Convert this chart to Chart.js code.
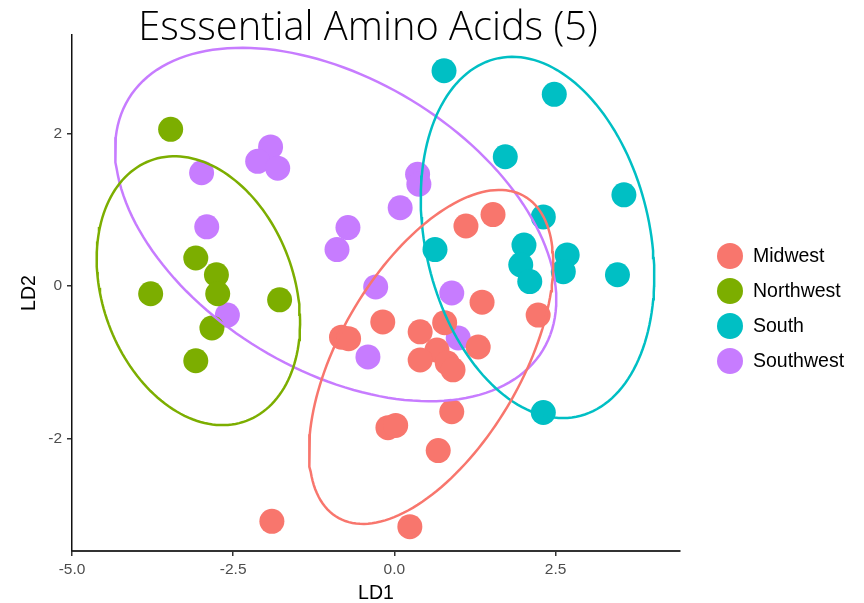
<!DOCTYPE html>
<html><head><meta charset="utf-8">
<script src="https://cdn.jsdelivr.net/npm/chart.js@4/dist/chart.umd.min.js"></script>
<style>html,body{margin:0;padding:0;background:#fff}canvas{display:block}</style>
</head><body>
<canvas id="c" width="864" height="603"></canvas>
<script>
// ---- data ----
const groupNames = ['Midwest', 'Northwest', 'South', 'Southwest'];
const groupColors = ['#F8766D', '#7CAE00', '#00BFC4', '#C77CFF'];

const midwestLD1 = [1.53, 1.11, 1.36, 2.23, -0.18, -0.82, -0.71, 0.40, 0.78, 0.66, 0.40, 0.82, 0.91, 1.30, 0.89, -0.10, 0.02, 0.68, -1.90, 0.24];
const midwestLD2 = [0.94, 0.79, -0.21, -0.38, -0.47, -0.67, -0.69, -0.60, -0.48, -0.84, -0.97, -1.01, -1.10, -0.80, -1.65, -1.86, -1.83, -2.16, -3.09, -3.16];

const northwestLD1 = [-3.47, -3.08, -2.76, -2.74, -3.78, -1.78, -2.83, -3.08];
const northwestLD2 = [2.06, 0.37, 0.15, -0.10, -0.10, -0.18, -0.55, -0.98];

const southLD1 = [0.77, 2.48, 1.72, 3.56, 2.31, 0.63, 2.01, 1.96, 2.10, 2.68, 2.62, 3.46, 2.31];
const southLD2 = [2.83, 2.52, 1.70, 1.20, 0.91, 0.48, 0.54, 0.28, 0.06, 0.41, 0.19, 0.15, -1.66];

const southwestLD1 = [-2.99, -2.91, -1.92, -2.12, -1.81, -2.59, -0.72, -0.89, -0.29, -0.41, 0.09, 0.36, 0.38, 0.89, 0.99];
const southwestLD2 = [1.49, 0.78, 1.83, 1.64, 1.55, -0.38, 0.77, 0.48, -0.01, -0.93, 1.03, 1.47, 1.34, -0.09, -0.68];

// confidence ellipses (centre, semi-axes, rotation in data units), order as groupNames
const ellipseCenterX = [0.57, -3.04, 2.22, -0.91];
const ellipseCenterY = [-0.93, -0.06, 0.64, 0.81];
const ellipseSemiMajor = [2.57, 1.88, 2.44, 3.63];
const ellipseSemiMinor = [1.34, 1.44, 1.72, 1.98];
const ellipseAngleDeg = [52.4, -57.8, -70.9, -23.5];

const xTickValues = [-5.0, -2.5, 0.0, 2.5];
const yTickValues = [-2, 0, 2];
const xRange = [-5.0, 4.43];
const yRange = [-3.48, 3.30];

const titleText = 'Esssential Amino Acids (5)';
const xTitle = 'LD1';
const yTitle = 'LD2';

// ---- build datasets ----
const xs = [midwestLD1, northwestLD1, southLD1, southwestLD1];
const ys = [midwestLD2, northwestLD2, southLD2, southwestLD2];

function ellipsePoints(i) {
  const pts = [];
  const th = ellipseAngleDeg[i] * Math.PI / 180;
  const a = ellipseSemiMajor[i], b = ellipseSemiMinor[i];
  const n = 160;
  for (let k = 0; k <= n; k++) {
    const t = 2 * Math.PI * k / n;
    const ex = a * Math.cos(t), ey = b * Math.sin(t);
    pts.push({
      x: ellipseCenterX[i] + ex * Math.cos(th) - ey * Math.sin(th),
      y: ellipseCenterY[i] + ex * Math.sin(th) + ey * Math.cos(th)
    });
  }
  return pts;
}

const datasets = [];
groupNames.forEach((name, i) => {
  datasets.push({
    label: name + ' ellipse',
    data: ellipsePoints(i),
    showLine: true,
    borderColor: groupColors[i],
    borderWidth: 2.5,
    pointRadius: 0,
    fill: false,
    tension: 0,
    order: 0
  });
});
groupNames.forEach((name, i) => {
  datasets.push({
    label: name,
    data: xs[i].map((x, k) => ({ x: x, y: ys[i][k] })),
    backgroundColor: groupColors[i],
    borderWidth: 0,
    pointRadius: 12.5,
    pointHoverRadius: 12.5,
    order: i + 1
  });
});

const FONT = '"Liberation Sans", Arial, Helvetica, sans-serif';

const decor = {
  id: 'decor',
  afterDraw(chart) {
    const ctx = chart.ctx;
    ctx.save();
    // title
    ctx.fillStyle = '#000';
    ctx.font = '300 36px "Open Sans", Lato, sans-serif';
    const w = ctx.measureText(titleText).width;
    const size = Math.max(30, Math.min(42, 36 * 460 / w));
    ctx.font = '300 ' + size.toFixed(1) + 'px "Open Sans", Lato, sans-serif';
    ctx.textAlign = 'center';
    ctx.textBaseline = 'alphabetic';
    ctx.fillText(titleText, 368, 40);
    // legend
    ctx.font = '19.5px ' + FONT;
    ctx.textAlign = 'left';
    ctx.textBaseline = 'middle';
    groupNames.forEach((name, i) => {
      const cy = 256 + 35 * i;
      ctx.beginPath();
      ctx.fillStyle = groupColors[i];
      ctx.arc(730, cy, 13, 0, Math.PI * 2);
      ctx.fill();
      ctx.fillStyle = '#000';
      ctx.fillText(name, 753, cy + 1);
    });
    ctx.restore();
  }
};

new Chart(document.getElementById('c'), {
  type: 'scatter',
  data: { datasets },
  options: {
    responsive: false,
    animation: false,
    events: [],
    devicePixelRatio: 1,
    layout: { padding: { left: 0, right: 184, top: 35, bottom: 0 } },
    plugins: { legend: { display: false }, tooltip: { enabled: false }, title: { display: false } },
    scales: {
      x: {
        type: 'linear',
        min: xRange[0], max: xRange[1],
        afterBuildTicks: s => { s.ticks = xTickValues.map(v => ({ value: v })); },
        afterFit: s => { s.height = 52; },
        ticks: { callback: v => Number(v).toFixed(1), color: '#4D4D4D', font: { family: FONT, size: 15.5 }, padding: 4, maxRotation: 0 },
        grid: { drawOnChartArea: false, drawTicks: true, tickLength: 5, color: '#333', lineWidth: 1.5 },
        border: { display: true, color: '#333', width: 2 },
        title: { display: true, text: xTitle, color: '#000', font: { family: FONT, size: 19.5, lineHeight: 1 }, padding: { top: 0, bottom: 0 } }
      },
      y: {
        type: 'linear',
        min: yRange[0], max: yRange[1],
        afterBuildTicks: s => { s.ticks = yTickValues.map(v => ({ value: v })); },
        afterFit: s => { s.width = 72; },
        ticks: { callback: v => String(v), color: '#4D4D4D', font: { family: FONT, size: 15.5 }, padding: 5 },
        grid: { drawOnChartArea: false, drawTicks: true, tickLength: 5, color: '#333', lineWidth: 1.5 },
        border: { display: true, color: '#111', width: 1.5 },
        title: { display: true, text: yTitle, color: '#000', font: { family: FONT, size: 19.5, lineHeight: 1 }, padding: { top: 20, bottom: 0 } }
      }
    }
  },
  plugins: [decor]
});
</script>
</body></html>
